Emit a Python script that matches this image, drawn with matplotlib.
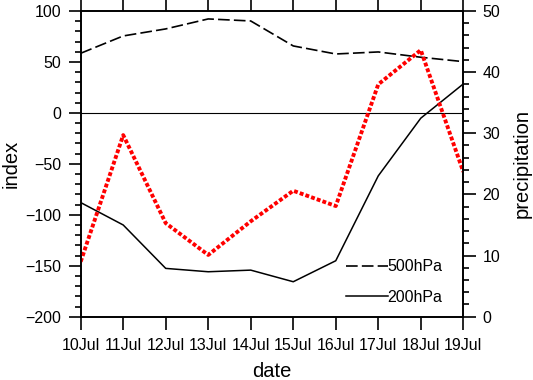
import matplotlib
matplotlib.use('Agg')
import matplotlib.pyplot as plt
from matplotlib.ticker import MultipleLocator
import numpy as np

plt.rcParams['font.family'] = ['Liberation Sans', 'DejaVu Sans']

# data
dates = ['10Jul', '11Jul', '12Jul', '13Jul', '14Jul',
         '15Jul', '16Jul', '17Jul', '18Jul', '19Jul']
h500 = [58.5, 75.5, 82.4, 92.2, 90.2, 65.7, 57.8, 59.8, 54.6, 50.3]
h200 = [-88.0, -110.0, -152.6, -155.9, -154.3, -165.7, -145.1, -61.8, -5.2, 28.4]
precip = [9.0, 29.7, 15.3, 10.1, 15.6, 20.6, 18.1, 38.0, 43.6, 23.7]

x = np.arange(len(dates))

fig = plt.figure(figsize=(5.33, 3.8), dpi=100)
ax = fig.add_axes([0.1514, 0.1666, 0.7178, 0.8045])

ax.axhline(0, color='black', lw=0.8)
l500, = ax.plot(x, h500, color='black', lw=1.2, dashes=(7, 2.5), label='500hPa')
l200, = ax.plot(x, h200, color='black', lw=1.1, label='200hPa')

ax.set_xlim(0, len(dates) - 1)
ax.set_ylim(-200, 100)
ax.set_xticks(x)
ax.set_xticklabels(dates)
ax.yaxis.set_major_locator(MultipleLocator(50))
ax.yaxis.set_minor_locator(MultipleLocator(10))
ax.tick_params(axis='both', which='both', direction='out', width=1.2,
               labelsize=11.5, pad=5)
ax.tick_params(axis='both', which='major', length=9)
ax.tick_params(axis='both', which='minor', length=4.5)
ax.tick_params(axis='x', top=True, labeltop=False, pad=6)
ax.tick_params(axis='y', right=False)
for s in ax.spines.values():
    s.set_linewidth(1.2)

ax.set_xlabel('date', fontsize=14.5)
ax.set_ylabel('index', fontsize=14.5)
ax.yaxis.set_label_coords(-0.183, 0.5)
ax.yaxis.label.set_va('center')
ax.xaxis.set_label_coords(0.5, -0.18)
ax.xaxis.label.set_va('center')

ax.legend(handles=[l500, l200], loc='lower right', bbox_to_anchor=(0.946, 0.038),
          frameon=False, fontsize=11.5, handlelength=2.6, handletextpad=0,
          borderpad=0, borderaxespad=0, labelspacing=1.0)

ax2 = ax.twinx()
ax2.set_position([0.1514, 0.1666, 0.7178, 0.8045])
ax2.plot(x, precip, color='#ff0000', lw=2.8, linestyle=(0, (1, 0.55)))
ax2.set_ylim(0, 50)
ax2.yaxis.set_major_locator(MultipleLocator(10))
ax2.yaxis.set_minor_locator(MultipleLocator(2))
ax2.tick_params(axis='y', which='both', direction='out', width=1.2,
                labelsize=11.5, pad=5)
ax2.tick_params(axis='y', which='major', length=9)
ax2.tick_params(axis='y', which='minor', length=4.5)
for s in ax2.spines.values():
    s.set_linewidth(1.2)
ax2.set_ylabel('precipitation', fontsize=14.5)
ax2.yaxis.set_label_coords(1.155, 0.5)
ax2.yaxis.label.set_va('center')
ax2.yaxis.label.set_ha('center')

fig.savefig('out.png', dpi=100)
